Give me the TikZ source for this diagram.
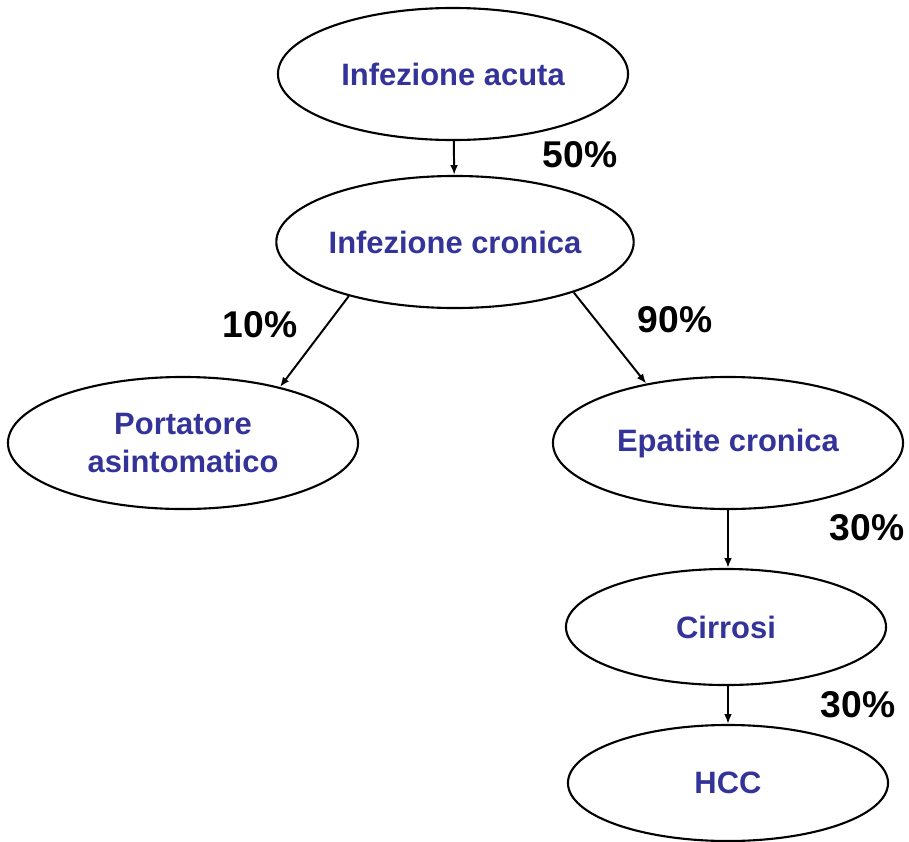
\documentclass[tikz,border=0pt]{standalone}
\usepackage{fontspec}
\setmainfont{Liberation Sans}
\usetikzlibrary{arrows.meta,shapes}
\tikzset{>={Latex[length=7pt,width=5.5pt]}}
\definecolor{stagetext}{RGB}{51,51,153}
\tikzstyle{stage}=[ellipse,draw=black,line width=1.5pt,inner sep=0pt,minimum width=8.75cm,minimum height=3.3cm,font=\fontsize{22}{27}\selectfont\bfseries,text=stagetext,align=center]
\tikzstyle{stagel}=[stage,minimum width=8cm,minimum height=2.9cm]
\tikzstyle{perc}=[font=\fontsize{26.5}{30}\selectfont\bfseries,inner sep=0pt]

\begin{document}
\begin{tikzpicture}[x=0.025cm,y=-0.025cm,line width=1.4pt]
	\useasboundingbox (0,0) rectangle (909,842);

	\node[stage] (acuta) at (453, 74) {Infezione acuta};
	\node[stage] (cronica) at (455, 242) {Infezione cronica};
	\node[stage] (portatore) at (183, 443) {Portatore\\asintomatico};
	\node[stage] (epatite) at (728, 443) {Epatite cronica};
	\node[stagel] (cirrosi) at (726, 627) {Cirrosi};
	\node[stagel] (hcc) at (728, 783) {HCC};

	\node[perc] (p50) at (580, 155) {50\%};
	\node[perc] (p10) at (260, 325) {10\%};
	\node[perc] (p90) at (675, 320) {90\%};
	\node[perc] (p30a) at (867, 528) {30\%};
	\node[perc] (p30b) at (858, 705) {30\%};

	\draw[->] (acuta) -- (cronica);
	\draw[->] (cronica.207) -- (portatore.30);
	\draw[->] (cronica.337) -- (epatite.144);
	\draw[->] (epatite.south) -- (epatite.south |- cirrosi.north);
	\draw[->] (epatite.south |- cirrosi.south) -- (epatite.south |- hcc.north);
\end{tikzpicture}
\end{document}
